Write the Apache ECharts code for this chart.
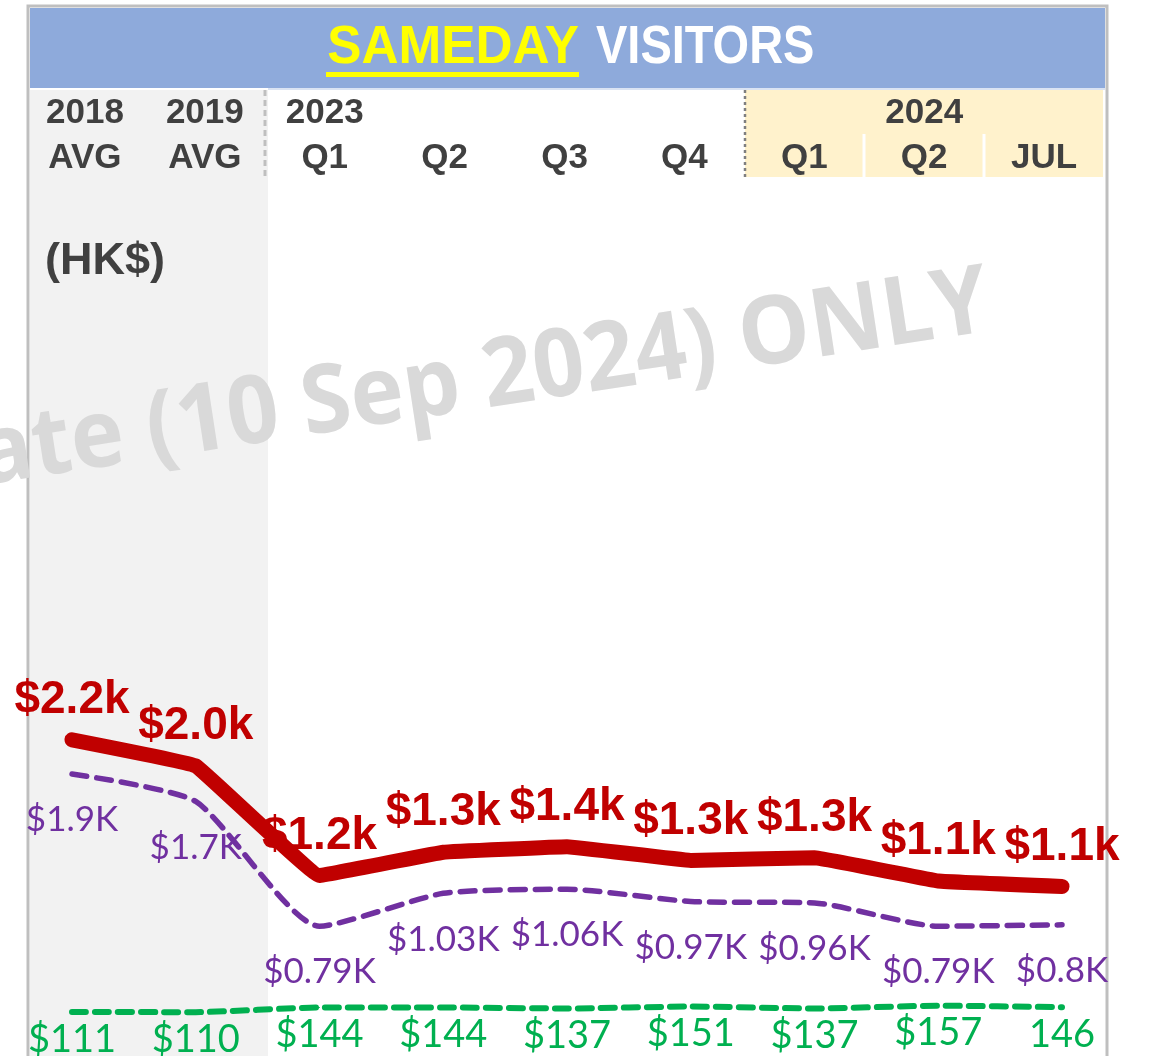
<!DOCTYPE html>
<html>
<head>
<meta charset="utf-8">
<script src="https://cdn.jsdelivr.net/npm/echarts@6/dist/echarts.min.js"></script>
<style>
  html, body { margin: 0; padding: 0; background: #fff; }
  #chart { width: 1152px; height: 1056px; }
</style>
</head>
<body>
<div id="chart"></div>
<script>
// header labels
var headerYears = ["2018", "2019", "2023", "", "", "", "", "2024", ""];
var headerPeriods = ["AVG", "AVG", "Q1", "Q2", "Q3", "Q4", "Q1", "Q2", "JUL"];

// spend per visitor, HK$ thousand (red = thick line, purple = dashed)
var redValues = [2.15, 1.96, 1.16, 1.33, 1.37, 1.27, 1.29, 1.12, 1.08];
var redLabels = ["$2.2k", "$2.0k", "$1.2k", "$1.3k", "$1.4k", "$1.3k", "$1.3k", "$1.1k", "$1.1k"];
var purpleValues = [1.9, 1.7, 0.79, 1.03, 1.06, 0.97, 0.96, 0.79, 0.8];
// HK$ (green dashed)
var greenValues = [111, 110, 144, 144, 137, 151, 137, 157, 146];
var greenLabels = ["$111", "$110", "$144", "$144", "$137", "$151", "$137", "$157", "146"];

var chart = echarts.init(document.getElementById("chart"));

var option = {
  animation: false,
  backgroundColor: "#fff",
  grid: [
    { left: 72, right: 90, top: 212, bottom: 21.5 },
    { left: 25, right: 48, top: 181, height: 1 }
  ],
  xAxis: [
    {
      type: "category",
      gridIndex: 0,
      data: headerPeriods,
      boundaryGap: false,
      show: false
    },
    {
      type: "category",
      gridIndex: 1,
      position: "top",
      data: headerPeriods,
      axisLine: { show: false },
      axisTick: { show: false },
      axisLabel: {
        margin: 0,
        interval: 0,
        lineHeight: 45,
        fontFamily: "Liberation Sans",
        fontWeight: "bold",
        fontSize: 35,
        color: "#404040",
        formatter: function (v, i) {
          return headerYears[i] + "\n" + v;
        }
      }
    }
  ],
  yAxis: [
    { type: "value", gridIndex: 0, min: 0, max: 6, show: false },
    { type: "value", gridIndex: 1, show: false },
    { type: "value", gridIndex: 0, min: -53, max: 5947, show: false }
  ],
  graphic: [
    // frame + banner
    { type: "rect", z: -20, shape: { x: 30, y: 8, width: 1075, height: 80 }, style: { fill: "#8eaadb" } },
    { type: "rect", z: -20, shape: { x: 30, y: 90, width: 238, height: 966 }, style: { fill: "#f2f2f2" } },
    { type: "rect", z: -20, shape: { x: 745, y: 90, width: 358, height: 87 }, style: { fill: "#fff2cc" } },
    { type: "line", z: -19, shape: { x1: 864, y1: 134, x2: 864, y2: 177 }, style: { stroke: "#fff", lineWidth: 3 } },
    { type: "line", z: -19, shape: { x1: 984, y1: 134, x2: 984, y2: 177 }, style: { stroke: "#fff", lineWidth: 3 } },
    { type: "line", z: -19, shape: { x1: 265, y1: 90, x2: 265, y2: 178 }, style: { stroke: "#bfbfbf", lineWidth: 3, lineDash: [6, 4] } },
    { type: "line", z: -19, shape: { x1: 745, y1: 90, x2: 745, y2: 178 }, style: { stroke: "#7f7f7f", lineWidth: 2.5, lineDash: [3, 3] } },
    { type: "line", z: -19, shape: { x1: 268, y1: 89, x2: 1105, y2: 89 }, style: { stroke: "#dae3f3", lineWidth: 2 } },
    { type: "rect", z: -18, shape: { x: 28, y: 6, width: 1079, height: 1060 }, style: { fill: null, stroke: "#bfbfbf", lineWidth: 3 } },
    // title
    {
      type: "text", z: 5, x: 579, y: 48, scaleX: 0.95,
      style: { text: "SAMEDAY", fill: "#ffff00", font: "bold 54px 'Liberation Sans'", textAlign: "right", textVerticalAlign: "middle" }
    },
    {
      type: "text", z: 5, x: 596, y: 48, scaleX: 0.87,
      style: { text: "VISITORS", fill: "#ffffff", font: "bold 54px 'Liberation Sans'", textAlign: "left", textVerticalAlign: "middle" }
    },
    { type: "rect", z: 5, shape: { x: 326, y: 72, width: 253, height: 5 }, style: { fill: "#ffff00" } },
    // unit
    {
      type: "text", z: 5, x: 45, y: 262,
      style: { text: "(HK$)", fill: "#404040", font: "bold 45px 'Liberation Sans'", textAlign: "left", textVerticalAlign: "middle" }
    },
    // watermark
    {
      type: "text", z: -10, x: -14, y: 505, rotation: 0.152, scaleX: 0.9, scaleY: 0.95,
      style: { text: "ate (10 Sep 2024) ONLY", fill: "#d9d9d9", font: "bold 100px 'Open Sans'", textAlign: "left", textVerticalAlign: "bottom" }
    }
  ],
  series: [
    {
      name: "green",
      type: "line",
      xAxisIndex: 0,
      yAxisIndex: 2,
      data: greenValues,
      symbol: "circle",
      symbolSize: 1,
      itemStyle: { color: "#00b050" },
      smooth: 0.2,
      lineStyle: { color: "#00b050", width: 6, type: [14, 9], cap: "round" },
      label: {
        show: true,
        position: "bottom",
        distance: 8,
        fontFamily: "Lato",
        fontSize: 38,
        color: "#00b050",
        formatter: function (p) { return greenLabels[p.dataIndex]; }
      },
      z: 3
    },
    {
      name: "purple",
      type: "line",
      xAxisIndex: 0,
      yAxisIndex: 0,
      data: purpleValues,
      symbol: "circle",
      symbolSize: 1,
      itemStyle: { color: "#7030a0" },
      smooth: 0.2,
      lineStyle: { color: "#7030a0", width: 5.5, type: [15, 10], cap: "round" },
      label: {
        show: true,
        position: "bottom",
        distance: 28,
        fontFamily: "Lato",
        fontSize: 35,
        color: "#7030a0",
        formatter: function (p) { return "$" + p.value + "K"; }
      },
      z: 3
    },
    {
      name: "red",
      type: "line",
      xAxisIndex: 0,
      yAxisIndex: 0,
      data: redValues,
      symbol: "circle",
      symbolSize: 1,
      itemStyle: { color: "#c00000" },
      smooth: 0.05,
      lineStyle: { color: "#c00000", width: 15, cap: "round", join: "round" },
      label: {
        show: true,
        position: "top",
        distance: 16,
        fontFamily: "Liberation Sans",
        fontWeight: "bold",
        fontSize: 46,
        color: "#c00000",
        formatter: function (p) { return redLabels[p.dataIndex]; }
      },
      z: 4
    }
  ]
};

chart.setOption(option);
</script>
</body>
</html>
